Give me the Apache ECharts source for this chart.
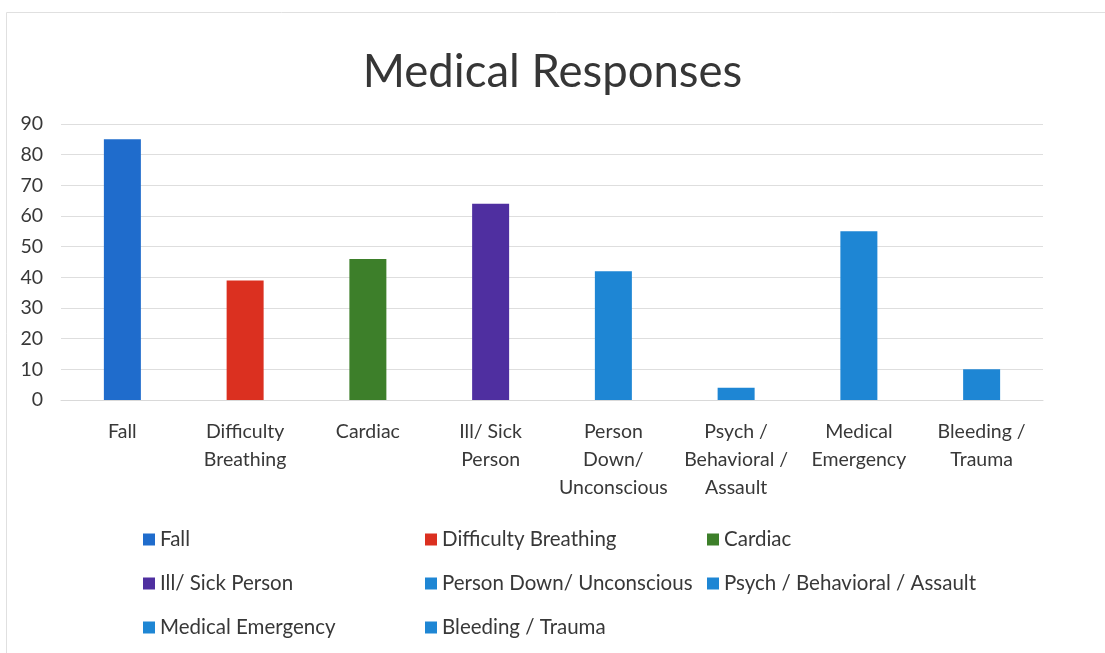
<!DOCTYPE html>
<html>
<head>
<meta charset="utf-8">
<script src="https://cdn.jsdelivr.net/npm/echarts@6/dist/echarts.min.js"></script>
<style>
  html, body { margin: 0; padding: 0; background: #ffffff; }
  #chart { width: 1105px; height: 653px; }
</style>
</head>
<body>
<div id="chart"></div>
<script>
// ---- data ----
const titleText = 'Medical Responses';
const categories = ['Fall', 'Difficulty Breathing', 'Cardiac', 'Ill/ Sick Person', 'Person Down/ Unconscious', 'Psych / Behavioral / Assault', 'Medical Emergency', 'Bleeding / Trauma'];
const axisLabels = ['Fall', 'Difficulty\nBreathing', 'Cardiac', 'Ill/ Sick\nPerson', 'Person\nDown/\nUnconscious', 'Psych /\nBehavioral /\nAssault', 'Medical\nEmergency', 'Bleeding /\nTrauma'];
const values = [85, 39, 46, 64, 42, 4, 55, 10];
const colors = ['#1f6ccc', '#db3020', '#3d7f2a', '#4f2fa0', '#1e86d4', '#1e86d4', '#1e86d4', '#1e86d4'];
const yTicks = { min: 0, max: 90, interval: 10 };
const legendColumns = [
  ['Fall', 'Ill/ Sick Person', 'Medical Emergency'],
  ['Difficulty Breathing', 'Person Down/ Unconscious', 'Bleeding / Trauma'],
  ['Cardiac', 'Psych / Behavioral / Assault']
];

// ---- chart ----
const FONT = 'Lato';
const chart = echarts.init(document.getElementById('chart'), null, { renderer: 'canvas' });

const series = categories.map((name, i) => ({
  name: name,
  type: 'bar',
  stack: 'all',
  barWidth: 37,
  itemStyle: { color: colors[i] },
  data: categories.map((c, j) => (j === i ? values[i] : '-'))
}));

const legendLefts = [143, 425, 707];
const legends = legendColumns.map((col, k) => ({
  orient: 'vertical',
  left: legendLefts[k],
  top: 529,
  padding: 0,
  itemGap: 23,
  itemWidth: 12,
  itemHeight: 12,
  icon: 'rect',
  selectedMode: false,
  data: col,
  textStyle: { fontFamily: FONT, fontSize: 20.5, color: '#383838', lineHeight: 20 }
}));

chart.setOption({
  animation: false,
  backgroundColor: '#ffffff',
  color: colors,
  title: {
    text: titleText,
    left: 'center',
    top: 44,
    textStyle: { fontFamily: FONT, fontSize: 45.5, fontWeight: 'normal', color: '#363636' }
  },
  graphic: [{
    type: 'rect',
    left: 4, top: 10,
    shape: { width: 1200, height: 800 },
    style: { fill: 'none', stroke: '#e0e0e0', lineWidth: 1 },
    silent: true
  }],
  legend: legends,
  grid: { left: 61, right: 62, top: 124, bottom: 253, containLabel: false },
  xAxis: {
    type: 'category',
    data: categories,
    axisLine: { show: true, lineStyle: { color: '#d9d9d9' } },
    axisTick: { show: false },
    axisLabel: {
      interval: 0,
      margin: 18,
      fontFamily: FONT,
      fontSize: 19.5,
      lineHeight: 28,
      color: '#383838',
      formatter: (v, i) => axisLabels[i]
    }
  },
  yAxis: {
    type: 'value',
    min: yTicks.min,
    max: yTicks.max,
    interval: yTicks.interval,
    axisLine: { show: false },
    axisTick: { show: false },
    splitLine: { lineStyle: { color: '#dedede' } },
    axisLabel: { fontFamily: FONT, fontSize: 19.5, color: '#383838', margin: 18 }
  },
  series: series
});
</script>
</body>
</html>
